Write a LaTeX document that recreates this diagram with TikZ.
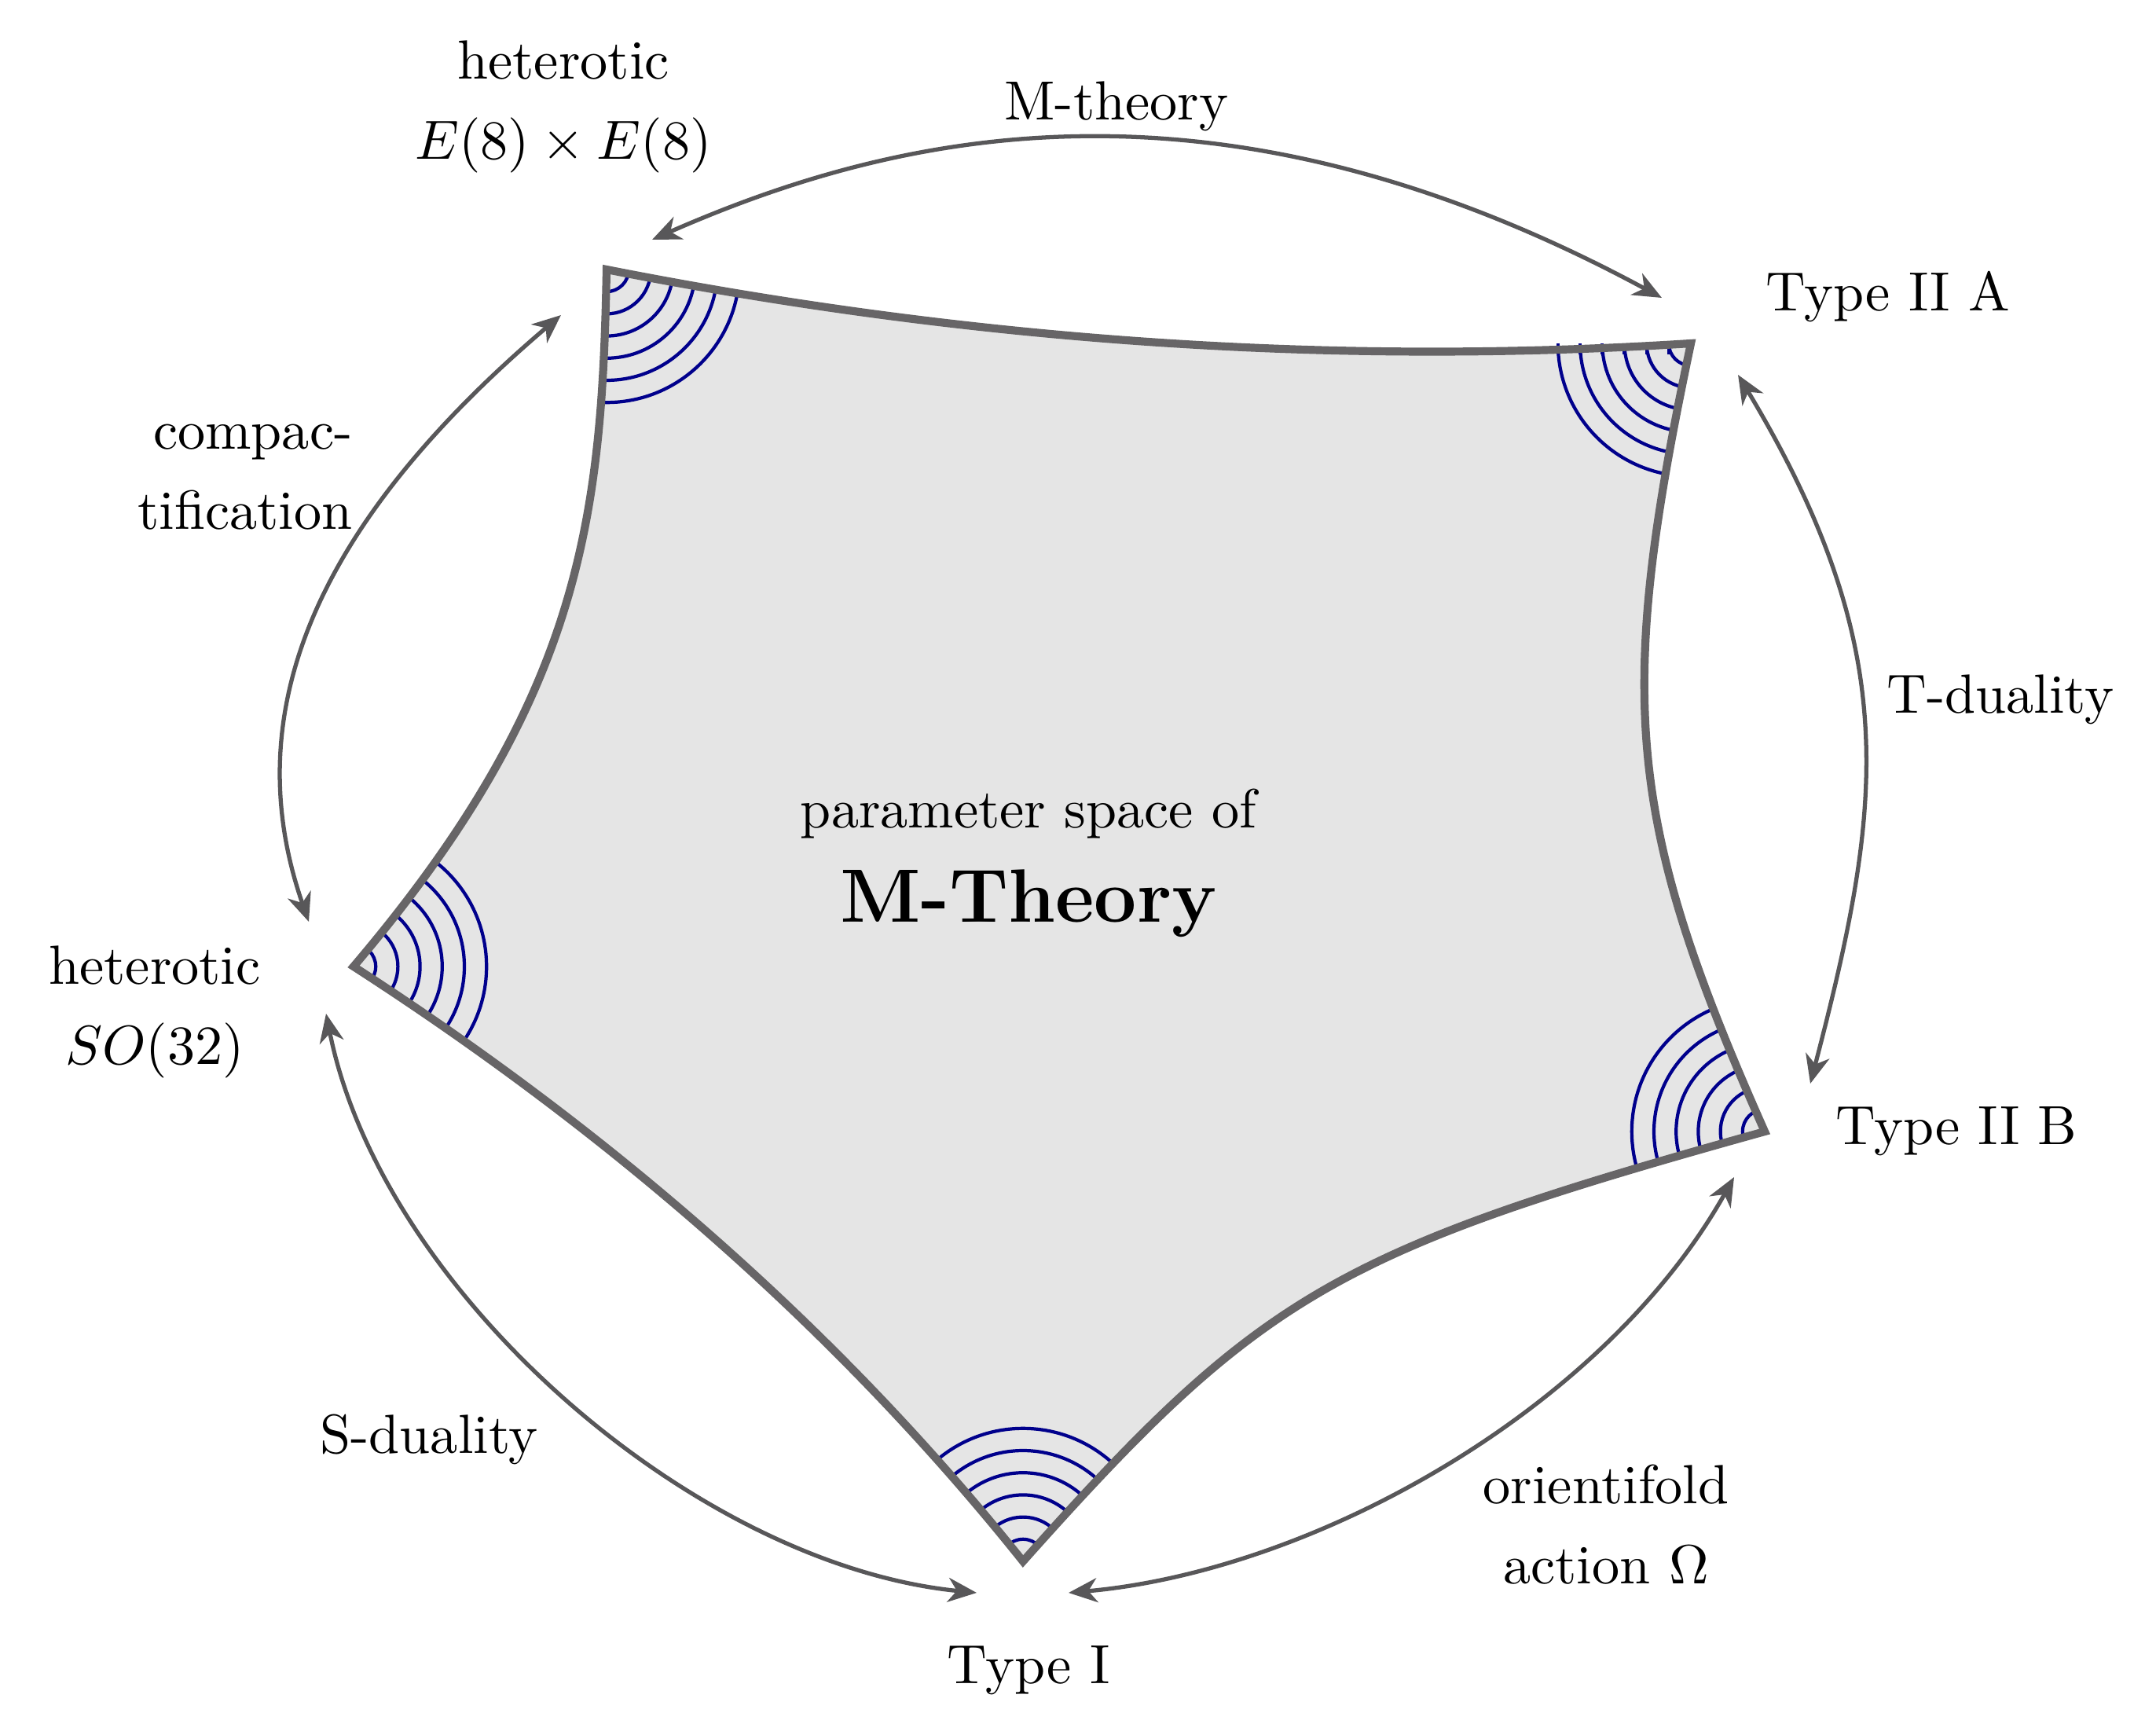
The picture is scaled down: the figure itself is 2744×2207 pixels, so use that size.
\documentclass[tikz,border=0pt]{standalone}
\usetikzlibrary{arrows.meta}
\definecolor{bordergray}{RGB}{103,101,103}
\definecolor{fillgray}{RGB}{229,229,229}
\definecolor{arrowgray}{RGB}{88,87,89}
\definecolor{arcblue}{RGB}{0,0,140}
\begin{document}
\begin{tikzpicture}[x=0.005cm,y=-0.005cm,
  border/.style={draw=bordergray, line width=1.45pt, line join=miter},
  ring/.style={draw=arcblue, line width=0.6pt},
  duality/.style={draw=arrowgray, line width=0.75pt,
    >={Stealth[length=5.2pt,width=4.4pt,inset=1.6pt]}, <->},
  lbl/.style={font=\fontsize{10}{14.5}\selectfont, align=center, inner sep=0pt},
]
\useasboundingbox (0,0) rectangle (2744,2207);
% vertices
\coordinate (A) at (772,343);
\coordinate (B) at (2152,437);
\coordinate (C) at (2246,1440);
\coordinate (D) at (1302,1987);
\coordinate (E) at (450,1230);
% interior with rings
\begin{scope}
  \clip (A) .. controls (1238,435) and (1698,466) .. (B)
    .. controls (2057,887) and (2068,1040) .. (C)
    .. controls (1699,1592) and (1605,1647) .. (D)
    .. controls (1075,1703) and (791,1450) .. (E)
    .. controls (739,890) and (766,663) .. (A) -- cycle;
  \fill[fillgray] (0,0) rectangle (2744,2207);
  \foreach \p in {A,B,C,D,E}
    \foreach \r in {28.2,56.4,84.6,112.8,141,169.2}
      \draw[ring] (\p) circle[radius=\r];
\end{scope}
% small ticks of the rings at Type II A
\foreach \r in {28.2,56.4,84.6,112.8,141,169.2}
  \draw[ring] (B) ++(-\r,0) -- ++(0,14);
% border
\draw[border] (A) .. controls (1238,435) and (1698,466) .. (B)
    .. controls (2057,887) and (2068,1040) .. (C)
    .. controls (1699,1592) and (1605,1647) .. (D)
    .. controls (1075,1703) and (791,1450) .. (E)
    .. controls (739,890) and (766,663) .. (A) -- cycle;
% arrow ends
\coordinate (mt1) at (830,305);
\coordinate (mt2) at (2115,379);
\coordinate (td1) at (2212,477);
\coordinate (td2) at (2304,1379);
\coordinate (or1) at (2207,1498);
\coordinate (or2) at (1360,2027);
\coordinate (sd1) at (415,1290);
\coordinate (sd2) at (1243,2027);
\coordinate (cp1) at (714,401);
\coordinate (cp2) at (393,1173);
% arrows
\draw[duality] (mt1) .. controls (1146,166) and (1552,75) .. (mt2);
\draw[duality] (td1) .. controls (2424,830) and (2396,1026) .. (td2);
\draw[duality] (or1) .. controls (2042,1792) and (1675,1999) .. (or2);
\draw[duality] (sd1) .. controls (485,1642) and (882,1991) .. (sd2);
\draw[duality] (cp1) .. controls (381,684) and (306,924) .. (cp2);
% labels
\node[lbl] (het8) at (717,136) {heterotic\\$E(8)\times E(8)$};
\node[lbl] (mth) at (1421,135) {M-theory};
\node[lbl] (t2a) at (2403,378) {Type II A};
\node[lbl] (tdu) at (2546,890) {T-duality};
\node[lbl] (t2b) at (2490,1440) {Type II B};
\node[lbl] (ori) at (2044,1940) {orientifold\\action $\Omega$};
\node[lbl] (t1) at (1309,2126) {Type I};
\node[lbl] (sdu) at (546,1832) {S-duality};
\node[lbl] (het32) at (197,1288) {heterotic\\$SO(32)$};
\node[lbl, align=right, anchor=east] (cmp) at (450,607) {compac-\\tification};
\node[lbl] (ps) at (1309,1036) {parameter space of};
\node[lbl, font=\fontsize{13.7}{16}\selectfont\bfseries] (mthy) at (1309,1150) {M-Theory};
\end{tikzpicture}
\end{document}
